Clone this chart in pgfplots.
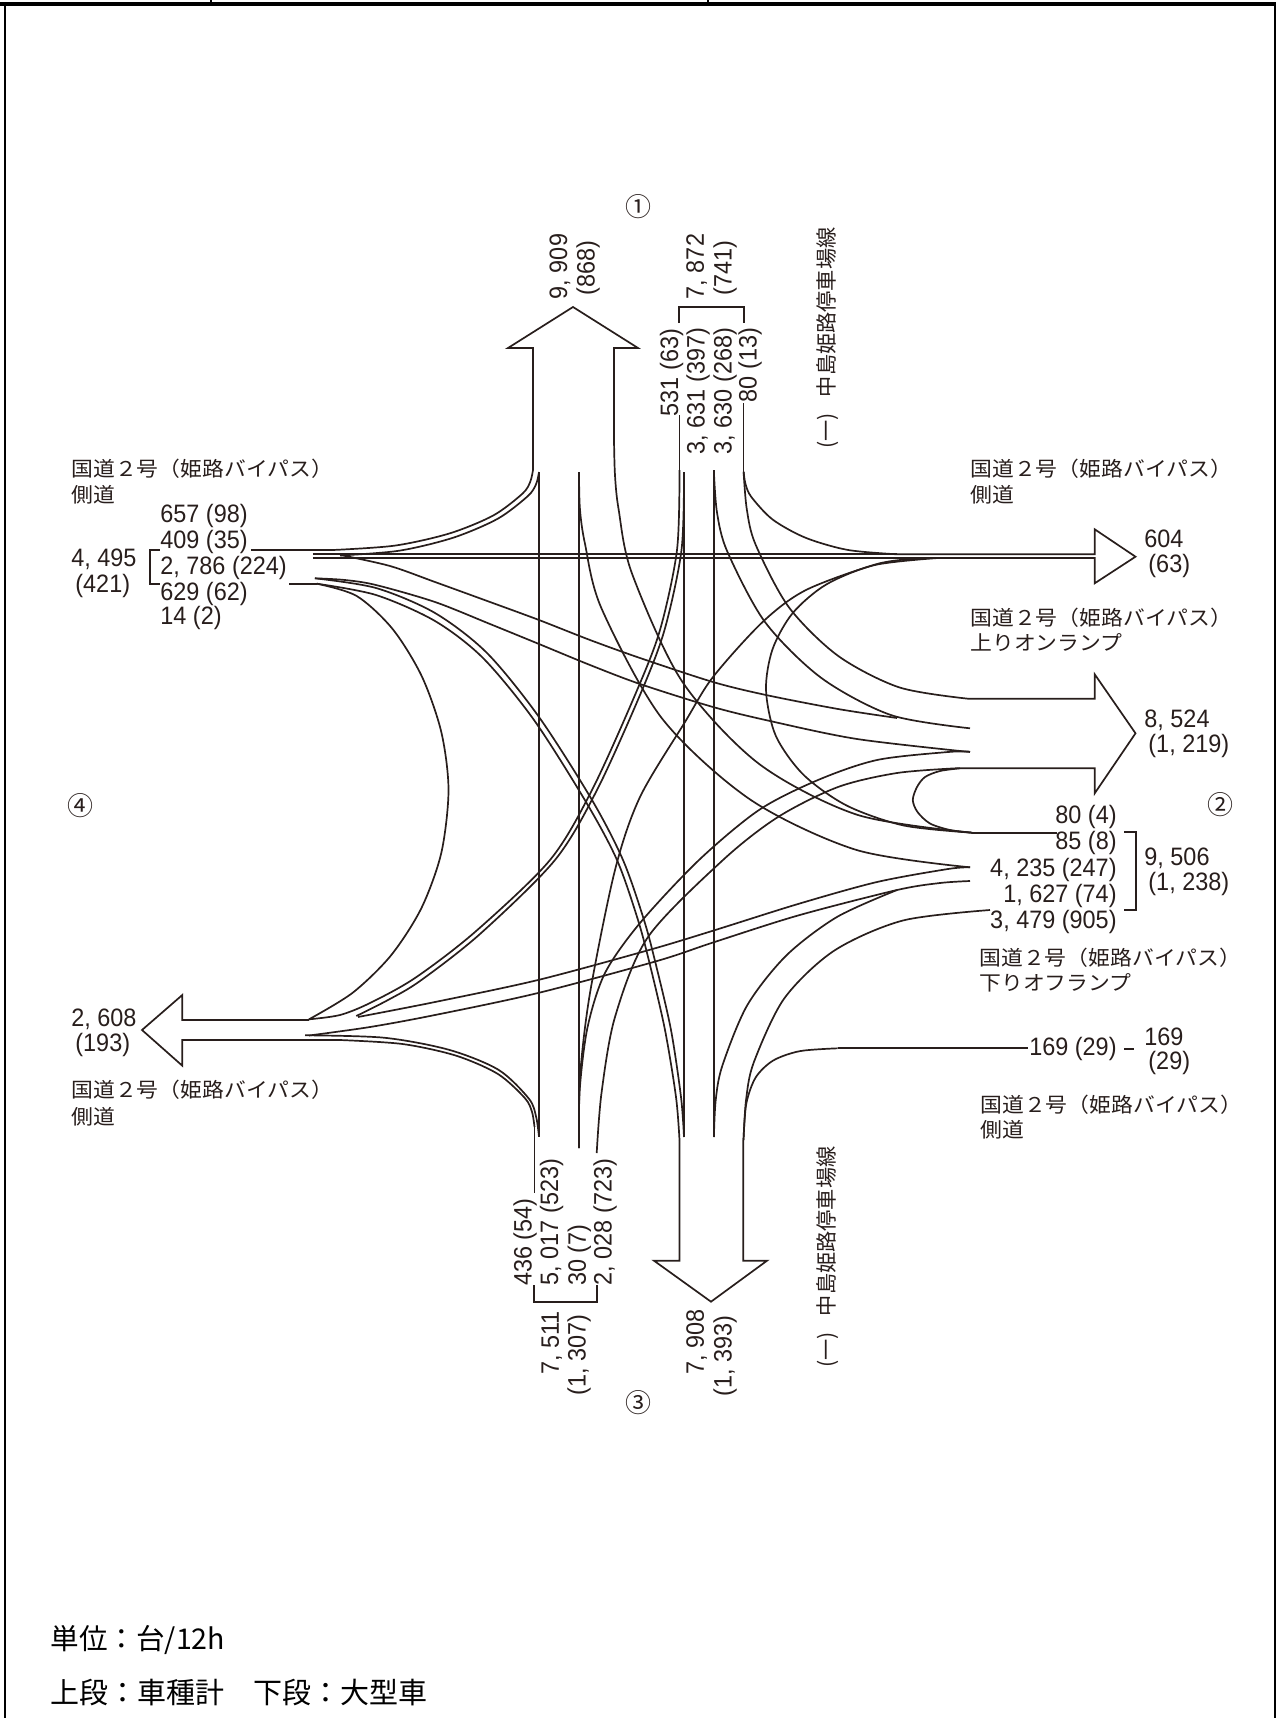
\documentclass[border=0pt]{standalone}
\usepackage{fontspec}
\usepackage{graphicx}
\usepackage{pgfplots}
\pgfplotsset{compat=1.18}
\setmainfont{Liberation Sans}
\newfontfamily\jp{Noto Sans CJK JP}
\definecolor{ink}{RGB}{40,30,28}
% 1 px of the reference = 0.5pt here
\newcommand\nm[1]{\scalebox{0.93}[1]{\fontsize{12.6pt}{13pt}\selectfont #1}}
\newcommand\jt[1]{\scalebox{1.07}[1]{\jp\fontsize{10.2pt}{12pt}\selectfont #1}}
\newcommand\cn[1]{{\jp\fontsize{13pt}{14pt}\selectfont #1}}
\newcommand\rt[1]{{\jp\fontsize{10.6pt}{12pt}\selectfont (一)\hspace{8pt}中島姫路停車場線}}
\tikzset{
    ln/.style={color=ink, line width=0.85pt, mark=none, line join=miter},
    cv/.style={ln, smooth},
    lab/.style={inner sep=0pt, text=ink},
}
\begin{document}
\begin{tikzpicture}
\useasboundingbox (0pt,0pt) rectangle (638pt,859pt);
\begin{axis}[
    at={(0pt,0pt)}, anchor=south west,
    scale only axis, width=638pt, height=859pt,
    xmin=0, xmax=1276, ymin=0, ymax=1718, y dir=reverse,
    hide axis, clip=false,
]
% frame
\addplot[black, line width=1.6pt, mark=none] coordinates {(0,4) (1276,4)};
\addplot[black, line width=0.8pt, mark=none] coordinates {(5,4) (5,1718)};
\addplot[black, line width=0.8pt, mark=none] coordinates {(1275,4) (1275,1718)};
\addplot[black, line width=0.6pt, mark=none] coordinates {(211,0) (211,4)};
\addplot[black, line width=0.6pt, mark=none] coordinates {(708,0) (708,4)};

% arrow heads and shafts
\addplot[ln] coordinates {(533,470) (533,348) (508,348) (573,307) (638,348) (614,348) (614,440)};
\addplot[ln] coordinates {(679.5,1140) (679.5,1260.7) (654,1260.7) (711,1301.7) (767,1260.7) (743.3,1260.7) (743.3,1140)};
\addplot[ln] coordinates {(968,698.7) (1094.7,698.7) (1094.7,674.3) (1135.5,733.3) (1094.7,793.3) (1094.7,768.3) (956,768.3)};
\addplot[ln] coordinates {(897,554.3) (1094.7,554.3) (1094.7,529.3) (1135.5,556.7) (1094.7,583.3) (1094.7,558) (938,558)};
\addplot[ln] coordinates {(309,1020) (182.3,1020) (182.3,995) (142,1030) (182.3,1065.7) (182.3,1040) (340,1040)};

% straight lines
\addplot[ln] coordinates {(312.8,554.3) (897,554.3)};
\addplot[ln] coordinates {(312.8,558) (938,558)};
\addplot[ln] coordinates {(539,472) (539,1136.7)};
\addplot[ln] coordinates {(579,472) (579,1148)};
\addplot[ln] coordinates {(684,472) (684,1137)};
\addplot[ln] coordinates {(713.9,470) (713.9,1137)};
\addplot[ln] coordinates {(679.5,415) (679.5,470)};
\addplot[ln] coordinates {(743.5,403) (743.5,472)};
\addplot[ln] coordinates {(534.5,1127) (534.5,1192.7)};
\addplot[ln] coordinates {(289,583.7) (316.8,583.7)};
\addplot[ln] coordinates {(972,832.7) (1057,832.7)};
\addplot[ln] coordinates {(837.7,1048.3) (1027.5,1048.3)};
\addplot[ln] coordinates {(250.8,550) (333,550)};

% brackets
\addplot[ln] coordinates {(159.8,550) (150,550) (150,583.7) (159.8,583.7)};
\addplot[ln] coordinates {(1124.4,832.3) (1136.2,832.3) (1136.2,910) (1124.4,910)};
\addplot[ln] coordinates {(534.3,1285) (534.3,1301.7) (596.7,1301.7) (596.7,1285)};
\addplot[ln] coordinates {(679,323) (679,307) (744,307) (744,323)};
\addplot[ln] coordinates {(1124,1049) (1134,1049)};

% flows from the upper left
\addplot[cv] coordinates {(533,470) (530.2,481.9) (522.5,493.6) (493.4,515.4) (449.6,533.4) (394.9,545.6) (333,550)};
\addplot[cv] coordinates {(539,472) (536.1,484.1) (527.8,496.1) (497.8,518.7) (453.2,537.7) (399.2,550.7) (340,555.5)};
\addplot[cv] coordinates {(340.5,555) (390,566) (435,582) (490,602) (539,620) (590,640) (640,658) (713,682) (766,695) (838,709) (897,718)};
\addplot[cv] coordinates {(315,578.3) (345,580) (376,585) (435,602) (490,624) (539,644) (590,665) (640,684) (713,707) (770,721) (857,739) (970,752)};
\addplot[cv] coordinates {(314.8,578.3) (376,588) (435,613) (487,653) (539,717) (592,800) (623,860) (644,920) (656,965) (671,1030) (681,1097) (684,1137)};
\addplot[cv] coordinates {(316.8,583.7) (376,595) (435,621) (483,658) (534,720) (586,802) (617,860) (638,920) (650,965) (665,1030) (676,1097) (679.5,1140)};
\addplot[cv] coordinates {(316.8,583.7) (356.7,596) (392.6,629) (421.8,676.3) (441.3,732) (448.5,790) (441.3,852.9) (421.3,908.3) (390.9,955.5) (352.6,992.8) (309,1019.3)};

% flows from the top
\addplot[cv] coordinates {(679.5,470) (677,550) (660,630) (635,695) (592,790) (550,860) (475,932) (415,978) (370,1003) (340,1015) (309,1019.3)};
\addplot[cv] coordinates {(684,472) (681.5,550) (664.5,630) (640,695) (597,790) (555,860) (480,934) (420,981) (388,1000) (356.3,1016)};
\addplot[cv] coordinates {(743.6,471.7) (745.5,484) (751.3,496.9) (772.6,519.5) (805.4,537.7) (847.6,549.9) (897,554.3)};
\addplot[cv] coordinates {(743.6,471.7) (746.8,509.3) (755.6,544.6) (788.7,607) (838,655.8) (899.3,687.4) (968,698.7)};
\addplot[cv] coordinates {(713.9,471.7) (717,512.5) (727.3,551.5) (764.9,621.9) (821.4,678) (891.4,715.2) (970,728.3)};
\addplot[cv] coordinates {(614,440) (615,475.5) (618.6,509.3) (631.8,573) (681.9,681.1) (758.7,763.6) (857.3,814.8) (972,832.7)};
\addplot[cv] coordinates {(579,472) (579.9,508.6) (584.9,543.4) (601.5,608.4) (661.9,718.3) (750.3,799.6) (856.3,849.9) (970,867.3)};

% flows from the right
\addplot[cv] coordinates {(938,558) (874.9,565) (826.4,584.4) (792.6,613.2) (772.5,649.3) (766,690) (775.7,735.6) (803.4,774.7) (846.8,805.6) (903.8,825.5) (972,832.7)};
\addplot[cv] coordinates {(972,832.7) (950,830) (930,823.5) (917.5,812) (912.8,800) (917,787) (925,777) (940,771) (960,768.3)};
\addplot[cv] coordinates {(358,1017) (435,1002) (538,980) (649,950) (713,930.7) (798,904) (877,882) (948,869) (970,867.3)};
\addplot[cv] coordinates {(309,1035.5) (370,1027) (435,1015) (538,993) (657,961) (713,942.5) (798,915.5) (897,890) (940,883) (970,881)};
\addplot[cv] coordinates {(743.5,1140) (746.1,1099.5) (753.8,1062.3) (784.2,998.5) (834.1,950.7) (902.9,920.5) (990,910)};
\addplot[cv] coordinates {(743.5,1140) (746.3,1103.6) (755.7,1077.4) (773.2,1060.5) (800,1051.1) (837.7,1048.3)};

% flows from the bottom
\addplot[cv] coordinates {(713.9,1137) (715.7,1100.2) (722.3,1065.8) (747.2,1005.3) (786.3,955.5) (836.9,917) (897,890)};
\addplot[cv] coordinates {(534.5,1127) (532,1111.9) (524.8,1098) (497.8,1073.9) (455.9,1055.6) (402.5,1044) (340,1040)};
\addplot[cv] coordinates {(539,1136.7) (536.2,1117.2) (529,1098.8) (498.5,1069.8) (449,1049.8) (384,1037.7) (305,1035.3)};
\addplot[cv] coordinates {(579,1148) (580,1077) (590,993) (615,870) (640,797) (685,722) (713,677) (762.6,622) (806,590) (877,564) (917,558.7)};
\addplot[cv] coordinates {(579,1148) (579.7,1090) (587.6,1027) (605,973) (640,923) (699,860) (759,810) (818,780) (877,760) (948,752) (970,751.7)};
\addplot[cv] coordinates {(596.7,1153) (601.5,1093) (615,1017) (648,937) (723,860) (778,817) (838,787) (897,773) (956,768.3)};

% road names
\node[lab,anchor=west] at (axis cs:71,469) {\jt{国道２号（姫路バイパス）}};
\node[lab,anchor=west] at (axis cs:71,495) {\jt{側道}};
\node[lab,anchor=west] at (axis cs:970,469) {\jt{国道２号（姫路バイパス）}};
\node[lab,anchor=west] at (axis cs:970,495) {\jt{側道}};
\node[lab,anchor=west] at (axis cs:970,618) {\jt{国道２号（姫路バイパス）}};
\node[lab,anchor=west] at (axis cs:970,643) {\jt{上りオンランプ}};
\node[lab,anchor=west] at (axis cs:979,958) {\jt{国道２号（姫路バイパス）}};
\node[lab,anchor=west] at (axis cs:979,983) {\jt{下りオフランプ}};
\node[lab,anchor=west] at (axis cs:980,1105) {\jt{国道２号（姫路バイパス）}};
\node[lab,anchor=west] at (axis cs:980,1130) {\jt{側道}};
\node[lab,anchor=west] at (axis cs:71,1090) {\jt{国道２号（姫路バイパス）}};
\node[lab,anchor=west] at (axis cs:71,1117) {\jt{側道}};
\node[lab,rotate=90] at (axis cs:828,338) {\rt{}};
\node[lab,rotate=90] at (axis cs:828,1257) {\rt{}};

% approach numbers
\node[lab] at (axis cs:638,206.7) {\cn{①}};
\node[lab] at (axis cs:1220,805) {\cn{②}};
\node[lab] at (axis cs:638,1402.7) {\cn{③}};
\node[lab] at (axis cs:80.7,805.7) {\cn{④}};

% left
\node[lab,anchor=west] at (axis cs:160,516) {\nm{657 (98)}};
\node[lab,anchor=west] at (axis cs:160,541.7) {\nm{409 (35)}};
\node[lab,anchor=west] at (axis cs:160,568) {\nm{2, 786 (224)}};
\node[lab,anchor=west] at (axis cs:160,594) {\nm{629 (62)}};
\node[lab,anchor=west] at (axis cs:160,618) {\nm{14 (2)}};
\node[lab,anchor=west] at (axis cs:71,559) {\nm{4, 495}};
\node[lab,anchor=west] at (axis cs:75,585.7) {\nm{(421)}};
\node[lab,anchor=west] at (axis cs:71,1019) {\nm{2, 608}};
\node[lab,anchor=west] at (axis cs:75,1045) {\nm{(193)}};

% right
\node[lab,anchor=west] at (axis cs:1144,539.3) {\nm{604}};
\node[lab,anchor=west] at (axis cs:1148,566) {\nm{(63)}};
\node[lab,anchor=west] at (axis cs:1144,720) {\nm{8, 524}};
\node[lab,anchor=west] at (axis cs:1148,746) {\nm{(1, 219)}};
\node[lab,anchor=east] at (axis cs:1117,817.3) {\nm{80 (4)}};
\node[lab,anchor=east] at (axis cs:1117,843.3) {\nm{85 (8)}};
\node[lab,anchor=east] at (axis cs:1117,870) {\nm{4, 235 (247)}};
\node[lab,anchor=east] at (axis cs:1117,895.7) {\nm{1, 627 (74)}};
\node[lab,anchor=east] at (axis cs:1117,921.7) {\nm{3, 479 (905)}};
\node[lab,anchor=west] at (axis cs:1144,858.3) {\nm{9, 506}};
\node[lab,anchor=west] at (axis cs:1148,884.3) {\nm{(1, 238)}};
\node[lab,anchor=east] at (axis cs:1117,1049.3) {\nm{169 (29)}};
\node[lab,anchor=west] at (axis cs:1144,1036.7) {\nm{169}};
\node[lab,anchor=west] at (axis cs:1148,1063) {\nm{(29)}};

% top, rotated
\node[lab,rotate=90] at (axis cs:560,266.5) {\nm{9, 909}};
\node[lab,rotate=90] at (axis cs:588,268) {\nm{(868)}};
\node[lab,rotate=90] at (axis cs:696.7,266.5) {\nm{7, 872}};
\node[lab,rotate=90] at (axis cs:725,268) {\nm{(741)}};
\node[lab,rotate=90] at (axis cs:671.7,372.5) {\nm{531 (63)}};
\node[lab,rotate=90] at (axis cs:698,391) {\nm{3, 631 (397)}};
\node[lab,rotate=90] at (axis cs:725,391) {\nm{3, 630 (268)}};
\node[lab,rotate=90] at (axis cs:750,365) {\nm{80 (13)}};

% bottom, rotated
\node[lab,rotate=90] at (axis cs:525,1242) {\nm{436 (54)}};
\node[lab,rotate=90] at (axis cs:551.7,1222) {\nm{5, 017 (523)}};
\node[lab,rotate=90] at (axis cs:579.3,1255) {\nm{30 (7)}};
\node[lab,rotate=90] at (axis cs:605,1222) {\nm{2, 028 (723)}};
\node[lab,rotate=90] at (axis cs:551.7,1343) {\nm{7, 511}};
\node[lab,rotate=90] at (axis cs:579,1355) {\nm{(1, 307)}};
\node[lab,rotate=90] at (axis cs:696.7,1342) {\nm{7, 908}};
\node[lab,rotate=90] at (axis cs:725,1356) {\nm{(1, 393)}};

% footer
\node[inner sep=0pt,anchor=west] at (axis cs:50,1640) {{\jp\fontsize{14.3pt}{16pt}\selectfont 単位：台/12h}};
\node[inner sep=0pt,anchor=west] at (axis cs:50,1693) {{\jp\fontsize{14.5pt}{16pt}\selectfont 上段：車種計　下段：大型車}};
\end{axis}
\end{tikzpicture}
\end{document}
